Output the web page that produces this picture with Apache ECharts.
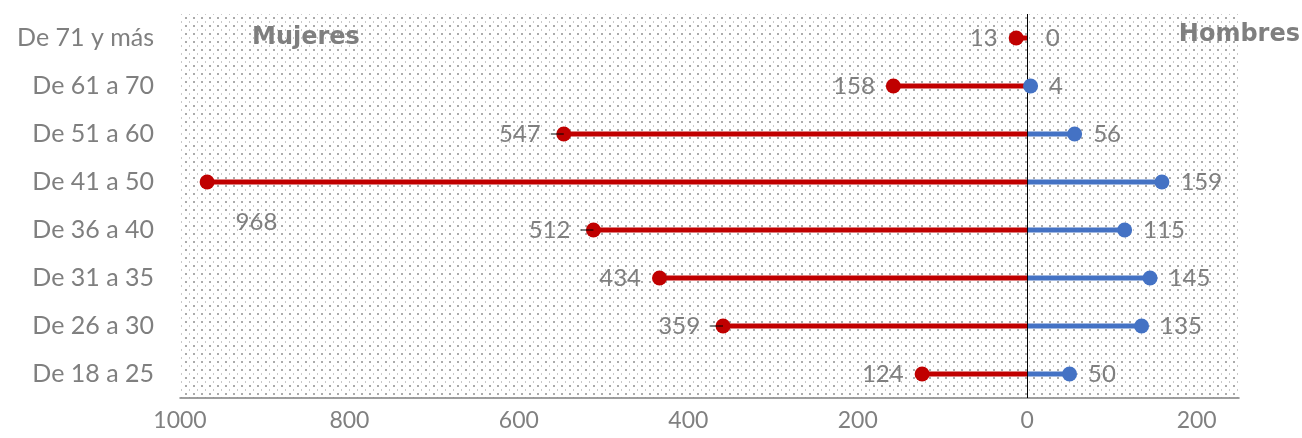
<!DOCTYPE html>
<html>
<head>
<meta charset="utf-8">
<script src="https://cdn.jsdelivr.net/npm/echarts@6/dist/echarts.min.js"></script>
<style>
html,body{margin:0;padding:0;background:#fff;}
#chart{width:1302px;height:438px;}
</style>
</head>
<body>
<div id="chart"></div>
<script>
const categories = ['De 18 a 25','De 26 a 30','De 31 a 35','De 36 a 40','De 41 a 50','De 51 a 60','De 61 a 70','De 71 y más'];
const mujeres = [124, 359, 434, 512, 968, 547, 158, 13];
const hombres = [50, 135, 145, 115, 159, 56, 4, 0];
const xTicks = [-1000, -800, -600, -400, -200, 0, 200];
const leaderCats = ['De 26 a 30', 'De 36 a 40', 'De 51 a 60'];

const RED = '#C00000', BLUE = '#4472C4', GREY = '#7f7f7f';
const FONT = 'Lato';

// dotted background tile
const tile = document.createElement('canvas');
tile.width = 8; tile.height = 8;
const tc = tile.getContext('2d');
tc.fillStyle = '#ffffff'; tc.fillRect(0,0,8,8);
tc.fillStyle = '#ababab'; tc.fillRect(1,1,2,2);
tc.fillStyle = '#c8c8c8'; tc.fillRect(5,5,1,2);

const chart = echarts.init(document.getElementById('chart'), null, {renderer:'canvas'});
const maxM = Math.max(...mujeres);

const womenDots = mujeres.map((v,i) => {
  const item = {value:[-v, i]};
  if (v === maxM) {
    item.label = {position:'right', offset:[10, 40], distance:11};
  } else if (leaderCats.includes(categories[i])) {
    item.label = {distance:-7.5, formatter: p => '{t|' + Math.abs(p.value[0]) + '}{g|}{d|}'};
  }
  return item;
});
const menDots = hombres.map((v,i) => ({
  value:[v, i],
  itemStyle: v === 0 ? {color:'rgba(0,0,0,0)'} : undefined
}));

const labelBase = {show:true, color:GREY, fontFamily:FONT, fontSize:24};
const titleStyle = {fill:GREY, font:'bold 24px "DejaVu Sans"', shadowColor:'rgba(0,0,0,0.2)', shadowBlur:2, shadowOffsetX:1, shadowOffsetY:1};

chart.setOption({
  animation:false,
  grid:{left:180, right:63, top:14, bottom:40, show:true, borderWidth:0,
        backgroundColor:{image:tile, repeat:'repeat'}},
  xAxis:{type:'value', min:-1000, max:250, interval:200,
    axisLine:{show:true, onZero:false, lineStyle:{color:'#808080', width:1.5}},
    axisTick:{show:false}, splitLine:{show:false},
    axisLabel:{color:'#808080', fontFamily:FONT, fontSize:23, margin:11,
      showMaxLabel:false,
      formatter: v => xTicks.includes(v) ? String(Math.abs(v)) : ''}},
  yAxis:{type:'category', data:categories,
    axisLine:{show:false}, axisTick:{show:false}, splitLine:{show:false},
    axisLabel:{color:GREY, fontFamily:FONT, fontSize:25, margin:26}},
  graphic:[
    {type:'text', left:252, top:26, z:10, style:Object.assign({text:'Mujeres'}, titleStyle)},
    {type:'text', right:2, top:23, z:10, style:Object.assign({text:'Hombres'}, titleStyle)}
  ],
  series:[
    {type:'bar', stack:'s', barWidth:5, data:mujeres.map(v=>-v), itemStyle:{color:RED}, silent:true,
     markLine:{silent:true, symbol:'none', label:{show:false}, lineStyle:{color:'#000', width:1, type:'solid'}, data:[{xAxis:0}]}},
    {type:'bar', stack:'s', barWidth:5, data:hombres, itemStyle:{color:BLUE}, silent:true},
    {type:'scatter', symbolSize:15, z:5, itemStyle:{color:RED, opacity:1}, data:womenDots,
     label:Object.assign({}, labelBase, {position:'left', distance:11,
        formatter:p=>String(Math.abs(p.value[0])),
        rich:{t:{color:GREY, fontFamily:FONT, fontSize:24}, g:{width:10}, d:{width:13, height:1, backgroundColor:'#000'}}})},
    {type:'scatter', symbolSize:15, z:5, itemStyle:{color:BLUE, opacity:1}, data:menDots,
     label:Object.assign({}, labelBase, {position:'right', distance:11, formatter:p=>String(p.value[0])})}
  ]
});
</script>
</body>
</html>
